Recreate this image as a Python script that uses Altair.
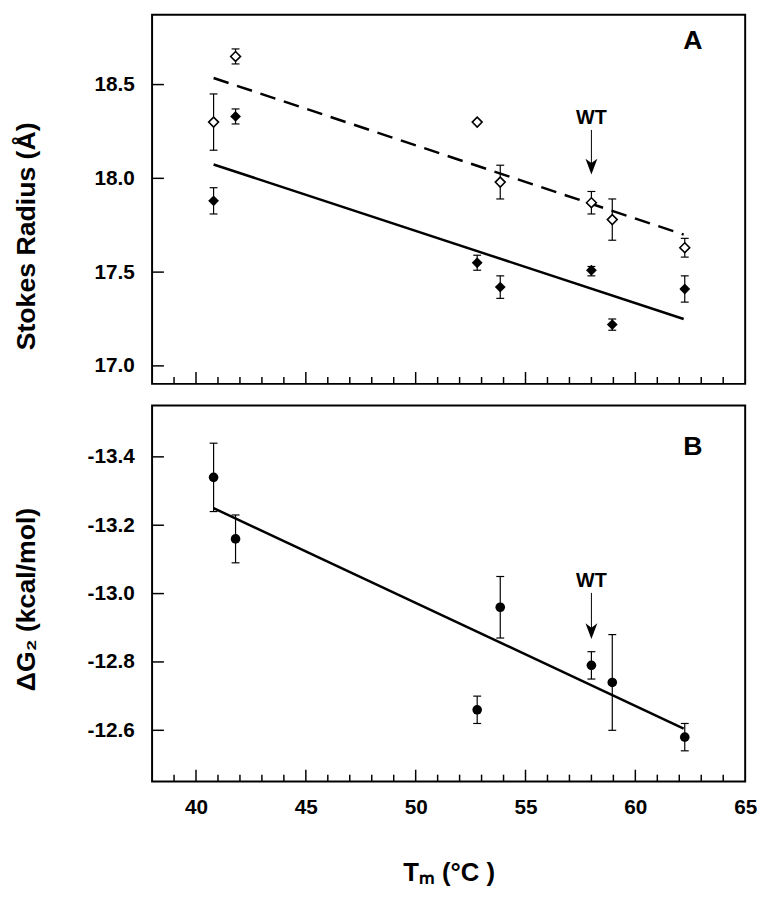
import altair as alt
import pandas as pd

FONT = "Liberation Sans"

# ---------------- data ----------------
tm = [40.8, 41.8, 52.8, 53.85, 58.0, 58.95, 62.25]

# Panel A: Stokes radius (open diamonds = upper series, filled = lower series)
rs_open = [18.30, 18.65, 18.30, 17.98, 17.87, 17.78, 17.63]
rs_open_lo = [18.15, 18.61, None, 17.89, 17.81, 17.67, 17.58]
rs_open_hi = [18.45, 18.69, None, 18.07, 17.93, 17.89, 17.68]
rs_fill = [17.88, 18.33, 17.55, 17.42, 17.51, 17.22, 17.41]
rs_fill_lo = [17.81, 18.29, 17.51, 17.36, 17.48, 17.19, 17.34]
rs_fill_hi = [17.95, 18.37, 17.59, 17.48, 17.53, 17.25, 17.48]

# Panel B: delta G2
dg = [-13.34, -13.16, -12.66, -12.96, -12.79, -12.74, -12.58]
dg_lo = [-13.44, -13.23, -12.70, -13.05, -12.83, -12.88, -12.62]
dg_hi = [-13.24, -13.09, -12.62, -12.87, -12.75, -12.60, -12.54]

# linear fits (end points)
fit_x = [40.8, 62.2]
fit_open = [18.535, 17.70]
fit_fill = [18.074, 17.25]
fit_dg = [-13.25, -12.605]

# axis ticks
x_major = [40, 45, 50, 55, 60]
x_minor = [39, 41, 42, 43, 44, 46, 47, 48, 49, 51, 52, 53, 54, 56, 57, 58, 59, 61, 62, 63, 64]
x_labels = [40, 45, 50, 55, 60, 65]
yA_ticks = [17.0, 17.5, 18.0, 18.5]
yB_ticks = [-13.4, -13.2, -13.0, -12.8, -12.6]

# annotations
wt_x = [58.0]
wtA = {"text": [18.32], "top": [18.258], "head": [18.063]}
wtB = {"text": [-13.036], "top": [-13.002], "head": [-12.89]}
panel_labels_x = [62.62]
labelA_y = [18.733]
labelB_y = [-13.429]

# ---------------- frames ----------------
dfA = pd.DataFrame({"tm": tm, "open": rs_open, "open_lo": rs_open_lo, "open_hi": rs_open_hi,
                    "fill": rs_fill, "fill_lo": rs_fill_lo, "fill_hi": rs_fill_hi})
dfB = pd.DataFrame({"tm": tm, "dg": dg, "lo": dg_lo, "hi": dg_hi})
dfFit = pd.DataFrame({"tm": fit_x, "open": fit_open, "fill": fit_fill, "dg": fit_dg})
dfXmaj = pd.DataFrame({"tm": x_major})
dfXmin = pd.DataFrame({"tm": x_minor})
dfYA = pd.DataFrame({"v": yA_ticks})
dfYB = pd.DataFrame({"v": yB_ticks})
dfWtA = pd.DataFrame({"tm": wt_x, "text": wtA["text"], "top": wtA["top"], "head": wtA["head"]})
dfWtB = pd.DataFrame({"tm": wt_x, "text": wtB["text"], "top": wtB["top"], "head": wtB["head"]})
dfLabA = pd.DataFrame({"tm": panel_labels_x, "v": labelA_y, "t": ["A"]})
dfLabB = pd.DataFrame({"tm": panel_labels_x, "v": labelB_y, "t": ["B"]})

W = 601
HA = 374
HB = 381

xscale = alt.Scale(domain=[38, 65], nice=False, zero=False)
yA_scale = alt.Scale(domain=[16.904, 18.872], nice=False, zero=False)
yB_scale = alt.Scale(domain=[-13.55, -12.45], nice=False, zero=False, reverse=True)

label_expr = "datum.value < 0 ? '-' + format(-datum.value, '.1f') : format(datum.value, '.1f')"

common_axis = dict(grid=False, domain=False, ticks=False, tickSize=0,
                   labelFont=FONT, labelFontSize=21, labelFontWeight="bold", labelColor="black",
                   labelPadding=18, titleFont=FONT, titleFontWeight="bold", titleColor="black",
                   labelFlush=False, labelOverlap=False)

yA_axis = alt.Axis(values=yA_ticks, labelExpr=label_expr, title="Stokes Radius (Å)",
                   titleFontSize=27, titleX=-119, titleY=224, titleAngle=270,
                   titleBaseline="alphabetic", titleAlign="center", **common_axis)
yB_axis = alt.Axis(values=yB_ticks, labelExpr=label_expr, title="ΔG₂ (kcal/mol)",
                   titleFontSize=27, titleX=-119, titleY=196, titleAngle=270,
                   titleBaseline="alphabetic", titleAlign="center", **common_axis)
xB_axis = alt.Axis(values=x_labels, format="d", title="Tₘ (°C )", titleFontSize=26,
                   titlePadding=43, **{k: v for k, v in common_axis.items() if k != "labelPadding"},
                   labelPadding=15)


def XA(field="tm"):
    return alt.X(field, type="quantitative", scale=xscale, axis=None)


def XB(field="tm"):
    return alt.X(field, type="quantitative", scale=xscale, axis=xB_axis)


def YA(field):
    return alt.Y(field, type="quantitative", scale=yA_scale, axis=yA_axis)


def YB(field):
    return alt.Y(field, type="quantitative", scale=yB_scale, axis=yB_axis)


def x_ticks(X, H):
    maj = alt.Chart(dfXmaj).mark_rule(color="black", strokeWidth=1.5).encode(
        x=X(), y=alt.value(H), y2=alt.value(H - 12))
    mnr = alt.Chart(dfXmin).mark_rule(color="black", strokeWidth=1.5).encode(
        x=X(), y=alt.value(H), y2=alt.value(H - 7))
    return [maj, mnr]


def y_ticks(df, Y):
    return alt.Chart(df).mark_rule(color="black", strokeWidth=1.5).encode(
        y=Y("v"), x=alt.value(0), x2=alt.value(12))


def errbars(df, X, Y, lo, hi):
    stem = alt.Chart(df).mark_rule(color="black", strokeWidth=1.2).encode(
        x=X(), y=Y(lo), y2=alt.Y2(hi))
    cap1 = alt.Chart(df).mark_tick(orient="horizontal", color="black", size=8, thickness=1.2,
                                   opacity=1).encode(x=X(), y=Y(lo))
    cap2 = alt.Chart(df).mark_tick(orient="horizontal", color="black", size=8, thickness=1.2,
                                   opacity=1).encode(x=X(), y=Y(hi))
    return [stem, cap1, cap2]


ARROW = "M-0.75,-1L0,1L0.75,-1L0,-0.45Z"


def wt_layers(df, X, Y):
    txt = alt.Chart(df).mark_text(text="WT", font=FONT, fontSize=20, fontWeight="bold",
                                  align="center", baseline="middle", color="black").encode(
        x=X(), y=Y("text"))
    shaft = alt.Chart(df).mark_rule(color="black", strokeWidth=1).encode(
        x=X(), y=Y("top"), y2=alt.Y2("head"))
    head = alt.Chart(df).mark_point(shape=ARROW, filled=True, color="black", size=256,
                                    opacity=1).encode(x=X(), y=Y("head"))
    return [txt, shaft, head]


# ---------------- panel A ----------------
layersA = []
layersA += [y_ticks(dfYA, YA)]
layersA += x_ticks(XA, HA)
layersA += [
    alt.Chart(dfFit).mark_line(color="black", strokeWidth=2.5, strokeDash=[16, 9]).encode(
        x=XA(), y=YA("open")),
    alt.Chart(dfFit).mark_line(color="black", strokeWidth=2.5).encode(x=XA(), y=YA("fill")),
]
layersA += errbars(dfA, XA, YA, "open_lo", "open_hi")
layersA += errbars(dfA, XA, YA, "fill_lo", "fill_hi")
layersA += [
    alt.Chart(dfA).mark_point(shape="diamond", fill="white", stroke="black", strokeWidth=1.6,
                              size=100, opacity=1, fillOpacity=1).encode(x=XA(), y=YA("open")),
    alt.Chart(dfA).mark_point(shape="diamond", filled=True, color="black", size=120,
                              opacity=1).encode(x=XA(), y=YA("fill")),
]
layersA += wt_layers(dfWtA, XA, YA)
layersA += [alt.Chart(dfLabA).mark_text(font=FONT, fontSize=27, fontWeight="bold", align="center",
                                        baseline="middle", color="black").encode(
    x=XA(), y=YA("v"), text="t:N")]
panelA = alt.layer(*layersA).properties(width=W, height=HA)

# ---------------- panel B ----------------
layersB = []
layersB += [y_ticks(dfYB, YB)]
layersB += x_ticks(XB, HB)
layersB += [alt.Chart(dfFit).mark_line(color="black", strokeWidth=2.5).encode(x=XB(), y=YB("dg"))]
layersB += errbars(dfB, XB, YB, "lo", "hi")
layersB += [alt.Chart(dfB).mark_circle(color="black", size=95, opacity=1).encode(x=XB(), y=YB("dg"))]
layersB += wt_layers(dfWtB, XB, YB)
layersB += [alt.Chart(dfLabB).mark_text(font=FONT, fontSize=27, fontWeight="bold", align="center",
                                        baseline="middle", color="black").encode(
    x=XB(), y=YB("v"), text="t:N")]
panelB = alt.layer(*layersB).properties(width=W, height=HB)

chart = alt.vconcat(panelA, panelB, spacing=19).properties(
    padding={"left": 4, "top": 0, "right": 0, "bottom": 0},
    background="white",
).configure_view(stroke="black", strokeWidth=2)

chart.save("out.html", embed_options={"renderer": "svg", "actions": False})
